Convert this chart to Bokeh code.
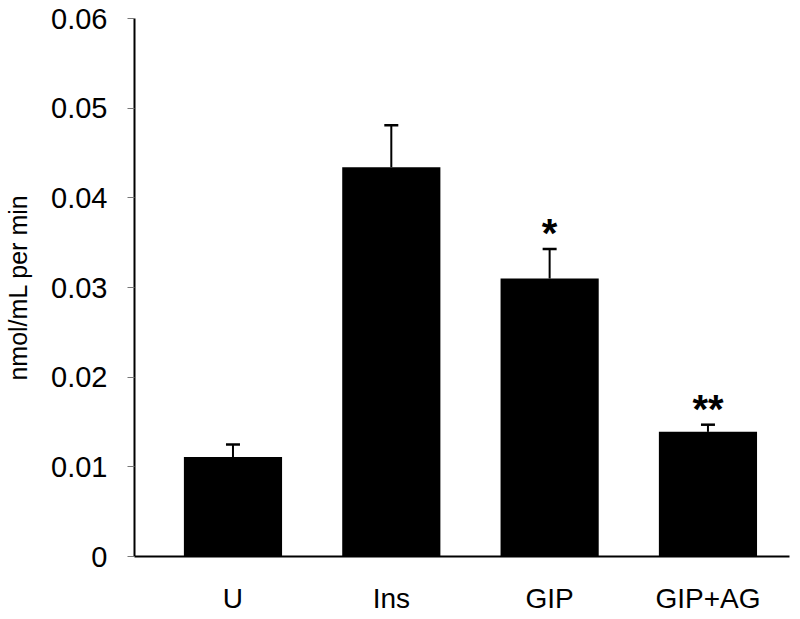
from bokeh.plotting import figure
from bokeh.models import ColumnDataSource, Range1d, FixedTicker, Whisker, TeeHead
from bokeh.core.properties import value
from bokeh.embed import file_html
from bokeh.resources import INLINE

categories = ["U", "Ins", "GIP", "GIP+AG"]
means = [0.0111, 0.0434, 0.0310, 0.0139]
errors = [0.0014, 0.0047, 0.0033, 0.0008]
stars = ["", "", "*", "**"]
y_ticks = [0, 0.01, 0.02, 0.03, 0.04, 0.05, 0.06]
y_tick_labels = ["0", "0.01", "0.02", "0.03", "0.04", "0.05", "0.06"]

xs = list(range(len(categories)))
upper = [m + e for m, e in zip(means, errors)]
src = ColumnDataSource(dict(x=xs, top=means, upper=upper, stars=stars))

FONT = "Liberation Sans"

p = figure(width=796, height=617, output_backend="svg", toolbar_location=None,
           x_range=Range1d(-0.622, 3.515), y_range=Range1d(0, 0.06),
           min_border_left=134, min_border_right=7, min_border_top=18, min_border_bottom=61)
p.outline_line_color = None
p.xgrid.visible = False
p.ygrid.visible = False
p.background_fill_color = "white"
p.border_fill_color = "white"

p.vbar(x="x", top="top", bottom=0, width=0.62, source=src,
       fill_color="black", line_color="black", line_width=0)

w = Whisker(base="x", lower="top", upper="upper", source=src,
            line_color="black", line_width=2,
            upper_head=TeeHead(size=14, line_color="black", line_width=2.5),
            lower_head=None)
p.add_layout(w)

p.text(x="x", y="upper", text="stars", source=src, text_align="center",
       text_baseline="alphabetic", text_font=value(FONT), text_font_style="bold",
       text_font_size="40px", text_color="black", y_offset=-16)

# y axis
p.yaxis.ticker = FixedTicker(ticks=y_ticks)
p.yaxis.major_label_overrides = {t: l for t, l in zip(y_ticks, y_tick_labels)}
p.yaxis.minor_tick_line_color = None
p.yaxis.major_tick_in = 0
p.yaxis.major_tick_out = 7
p.yaxis.major_tick_line_color = "#777777"
p.yaxis.major_tick_line_width = 1
p.yaxis.axis_line_color = "black"
p.yaxis.axis_line_width = 2
p.yaxis.major_label_standoff = 20
p.yaxis.major_label_text_font = FONT
p.yaxis.major_label_text_font_size = "29px"
p.yaxis.major_label_text_color = "black"
p.yaxis.axis_label = "nmol/mL per min"
p.yaxis.axis_label_text_font = FONT
p.yaxis.axis_label_text_font_size = "25px"
p.yaxis.axis_label_text_font_style = "normal"
p.yaxis.axis_label_text_color = "black"
p.yaxis.axis_label_standoff = 16

# x axis
p.xaxis.ticker = FixedTicker(ticks=xs)
p.xaxis.major_label_overrides = {i: c for i, c in zip(xs, categories)}
p.xaxis.minor_tick_line_color = None
p.xaxis.major_tick_in = 0
p.xaxis.major_tick_out = 0
p.xaxis.axis_line_color = "black"
p.xaxis.axis_line_width = 2
p.xaxis.major_label_standoff = 26
p.xaxis.major_label_text_font = FONT
p.xaxis.major_label_text_font_size = "28px"
p.xaxis.major_label_text_color = "black"

open("out.html", "w").write(file_html(p, INLINE))
